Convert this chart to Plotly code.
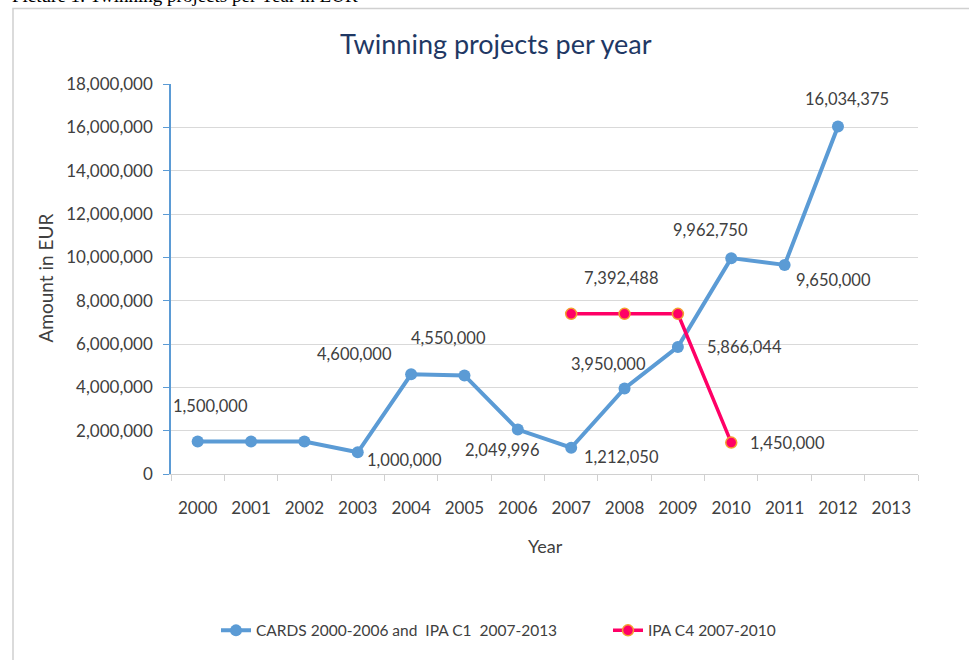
import plotly.graph_objects as go

years = [str(y) for y in range(2000, 2014)]
cards = [1500000, 1500000, 1500000, 1000000, 4600000, 4550000, 2049996,
         1212050, 3950000, 5866044, 9962750, 9650000, 16034375, None]
ipa_c4 = [None, None, None, None, None, None, None,
          7392488, 7392488, 7392488, 1450000, None, None, None]

# data-label offsets in pixels (None = no label on that point)
cards_shift = [(13, 36), None, None, (47, -8), (-57, 20), (-16, 37), (-16, -20),
               (50, -9), (-16, 24), (67, 0), (-21, 28), (49, -15), (9, 28), None]
ipa_shift = [None, None, None, None, None, None, None,
             None, (-4, 36), None, (56, 0), None, None, None]

FONT = "Lato"
TXT = "#404040"
BLUE = "#5b9bd5"
PINK = "#ff0066"

# plot-area geometry in pixels
L, R, T, B = 171, 51, 84, 183
W, H = 969 - L - R, 660 - T - B


def px(x):
    return (x - L) / W


def py(y):
    return (660 - B - y) / H


fig = go.Figure()
fig.add_trace(go.Scatter(
    x=years, y=cards, mode="lines+markers",
    name="CARDS 2000-2006 and  IPA C1  2007-2013",
    line=dict(color=BLUE, width=4),
    marker=dict(size=12, color=BLUE),
    legend="legend",
))
fig.add_trace(go.Scatter(
    x=years, y=ipa_c4, mode="lines+markers",
    name="IPA C4 2007-2010",
    line=dict(color=PINK, width=3.5),
    marker=dict(size=11, color=PINK, line=dict(color="#f4a030", width=1.5)),
    legend="legend2",
))

annotations = []
for series, shifts in ((cards, cards_shift), (ipa_c4, ipa_shift)):
    for i, (v, s) in enumerate(zip(series, shifts)):
        if v is not None and s is not None:
            annotations.append(dict(
                x=i, y=v, xref="x", yref="y", text=f"{v:,}", showarrow=False,
                xanchor="center", yanchor="middle", xshift=s[0], yshift=s[1],
                font=dict(family=FONT, size=16.5, color=TXT)))

# axis titles
annotations.append(dict(xref="paper", yref="paper", x=px(46), y=py(280),
                        xanchor="center", yanchor="middle",
                        text="Amount in EUR", textangle=-90, showarrow=False,
                        font=dict(family=FONT, size=19, color=TXT)))
annotations.append(dict(xref="paper", yref="paper", x=px(545), y=py(550),
                        xanchor="center", yanchor="middle",
                        text="Year", showarrow=False,
                        font=dict(family=FONT, size=18, color=TXT)))
# title
annotations.append(dict(xref="paper", yref="paper", x=px(496), y=py(43),
                        xanchor="center", yanchor="middle",
                        text="Twinning projects per year", showarrow=False,
                        font=dict(family=FONT, size=27, color="#1f3864")))
# caption above the chart frame (cut off by the page top, as in the source)
annotations.append(dict(xref="paper", yref="paper", x=px(10), y=py(-5),
                        xanchor="left", yanchor="middle",
                        text="Picture 1: Twinning projects per Year in EUR", showarrow=False,
                        font=dict(family="Liberation Serif", size=19, color="#000000")))

legend_font = dict(family=FONT, size=15.5, color=TXT)
fig.update_layout(
    width=969, height=660,
    margin=dict(l=L, r=R, t=T, b=B),
    paper_bgcolor="white", plot_bgcolor="white",
    showlegend=True,
    legend=dict(orientation="h", x=px(216), y=py(635),
                xanchor="left", yanchor="middle", font=legend_font),
    legend2=dict(orientation="h", x=px(608), y=py(635),
                 xanchor="left", yanchor="middle", font=legend_font),
    annotations=annotations,
    shapes=[dict(type="rect", xref="paper", yref="paper",
                 x0=px(13), x1=px(985), y0=py(690), y1=py(8),
                 line=dict(color="#d0d0d0", width=1.5), layer="below")],
)
fig.update_xaxes(
    type="category", range=[-0.5, 13.5],
    showline=True, linecolor="#d0d0d0", linewidth=1,
    ticks="outside", tickson="boundaries", ticklen=6, tickcolor="#d0d0d0",
    showgrid=False, ticklabelstandoff=19,
    tickfont=dict(family=FONT, size=17, color=TXT),
)
fig.update_yaxes(
    range=[0, 18000000], dtick=2000000, tickformat=",d",
    showline=True, linecolor=BLUE, linewidth=1.5,
    ticks="outside", ticklen=6, tickcolor=BLUE,
    showgrid=True, gridcolor="#d9d9d9", gridwidth=1,
    zeroline=False, ticklabelstandoff=7,
    tickfont=dict(family=FONT, size=17, color=TXT),
)

fig.write_html("out.html")
